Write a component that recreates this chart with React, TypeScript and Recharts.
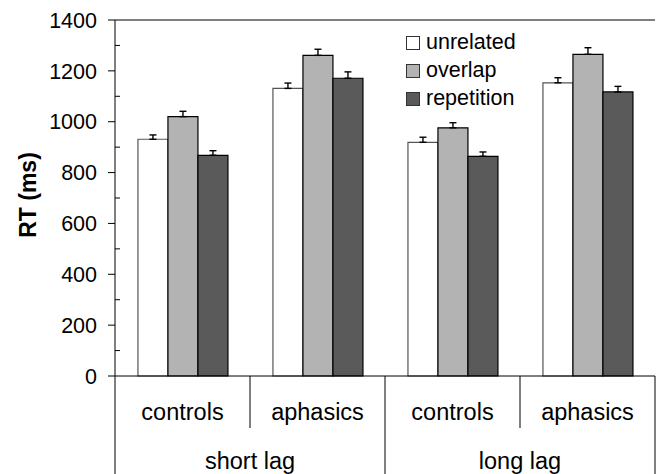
import { BarChart, Bar, XAxis, YAxis, ErrorBar, Legend, ReferenceLine, Label } from 'recharts';

const FONT = '"Liberation Sans", Arial, sans-serif';

// groups along the x axis, with the lag they belong to
const groups = ['controls', 'aphasics', 'controls', 'aphasics'];
const lags = ['short lag', 'short lag', 'long lag', 'long lag'];

// mean RT (ms) per condition
const unrelated = [931, 1131, 919, 1153];
const overlap = [1020, 1261, 976, 1265];
const repetition = [868, 1171, 864, 1117];

// upper error (ms)
const unrelatedErr = [17, 21, 20, 20];
const overlapErr = [21, 24, 20, 26];
const repetitionErr = [18, 25, 17, 22];

const yTicks = [0, 100, 200, 300, 400, 500, 600, 700, 800, 900, 1000, 1100, 1200, 1300, 1400];

const SERIES = [
    { key: 'unrelated', name: 'unrelated', fill: '#ffffff', stroke: '#555555' },
    { key: 'overlap', name: 'overlap', fill: '#b3b3b3', stroke: '#000000' },
    { key: 'repetition', name: 'repetition', fill: '#5a5a5a', stroke: '#000000' },
];

const data = groups.map((g, i) => ({
    key: `${lags[i]}|${g}|${i}`,
    unrelated: unrelated[i],
    overlap: overlap[i],
    repetition: repetition[i],
    unrelatedErr: [0, unrelatedErr[i]],
    overlapErr: [0, overlapErr[i]],
    repetitionErr: [0, repetitionErr[i]],
}));

function YTick({ x, y, payload }: any) {
    const major = payload.value % 200 === 0;
    if (!major) return <line x1={x} x2={x + 5} y1={y} y2={y} stroke="#000" strokeWidth={1} />;
    return (
        <g>
            <line x1={x - 7} x2={x} y1={y} y2={y} stroke="#000" strokeWidth={1} />
            <text x={x - 18} y={y} dy="0.36em" textAnchor="end" fontSize={21.5} fill="#000" fontFamily={FONT}>
                {payload.value}
            </text>
        </g>
    );
}

function XTick({ x, y, payload, index }: any) {
    const half = payload.offset;
    const left = x - half;
    const first = index % 2 === 0;
    const last = index === groups.length - 1;
    return (
        <g>
            <line x1={left} x2={left} y1={y} y2={first ? y + 98 : y + 52} stroke="#000" strokeWidth={1} />
            {last && <line x1={x + half} x2={x + half} y1={y} y2={y + 98} stroke="#000" strokeWidth={1} />}
            <text x={x} y={y + 44} textAnchor="middle" fontSize={23.5} fill="#000" fontFamily={FONT}>
                {groups[index]}
            </text>
            {first && (
                <text x={x + half} y={y + 93} textAnchor="middle" fontSize={23.5} fill="#000" fontFamily={FONT}>
                    {lags[index]}
                </text>
            )}
        </g>
    );
}

// legend keeps the series order (recharts may reorder its payload)
function LegendContent() {
    return (
        <div style={{ fontFamily: FONT, fontSize: 21.5, color: '#000', lineHeight: 1 }}>
            {SERIES.map((s) => (
                <div key={s.key} style={{ display: 'flex', alignItems: 'center', height: 28 }}>
                    <svg width={14} height={14} style={{ display: 'block' }}>
                        <rect x={0.5} y={0.5} width={13} height={13} fill={s.fill} stroke="#333" strokeWidth={1} />
                    </svg>
                    <span style={{ marginLeft: 6 }}>{s.name}</span>
                </div>
            ))}
        </div>
    );
}

export default function App() {
    return (
        <div style={{ position: 'absolute', left: 0, top: 0, width: 661, height: 474, background: '#fff' }}>
            <BarChart
                width={661}
                height={474}
                data={data}
                margin={{ top: 20, right: 6, left: 0, bottom: 0 }}
                barCategoryGap="17%"
                barGap={0}
            >
                <XAxis
                    dataKey="key"
                    height={98}
                    tick={<XTick />}
                    tickLine={false}
                    tickSize={0}
                    tickMargin={0}
                    interval={0}
                    axisLine={{ stroke: '#000', strokeWidth: 1 }}
                />
                <YAxis
                    width={115}
                    domain={[0, 1400]}
                    ticks={yTicks}
                    interval={0}
                    tick={<YTick />}
                    tickLine={false}
                    tickSize={0}
                    tickMargin={0}
                    axisLine={{ stroke: '#000', strokeWidth: 1 }}
                >
                    <Label
                        content={({ viewBox }: any) => {
                            const cx = viewBox.x + 27.5;
                            const cy = viewBox.y + viewBox.height / 2 - 3;
                            return (
                                <text
                                    x={cx}
                                    y={cy}
                                    transform={`rotate(-90, ${cx}, ${cy})`}
                                    textAnchor="middle"
                                    dominantBaseline="central"
                                    fontSize={23}
                                    fontWeight="bold"
                                    fill="#000"
                                    fontFamily={FONT}
                                >
                                    RT (ms)
                                </text>
                            );
                        }}
                    />
                </YAxis>
                <YAxis
                    yAxisId="r"
                    orientation="right"
                    width={0}
                    domain={[0, 1400]}
                    tick={false}
                    tickLine={false}
                    axisLine={{ stroke: '#000', strokeWidth: 1 }}
                />
                <ReferenceLine y={1400} stroke="#000" strokeWidth={1} ifOverflow="visible" />
                <Legend
                    layout="vertical"
                    align="center"
                    verticalAlign="middle"
                    content={<LegendContent />}
                    wrapperStyle={{ position: 'absolute', left: 406, top: 29, width: 'auto', height: 'auto' }}
                />
                {SERIES.map((s) => (
                    <Bar
                        key={s.key}
                        dataKey={s.key}
                        name={s.name}
                        fill={s.fill}
                        stroke={s.stroke}
                        strokeWidth={1.2}
                        isAnimationActive={false}
                    >
                        <ErrorBar dataKey={`${s.key}Err`} width={3.5} stroke="#000" strokeWidth={1.4} direction="y" />
                    </Bar>
                ))}
            </BarChart>
        </div>
    );
}
